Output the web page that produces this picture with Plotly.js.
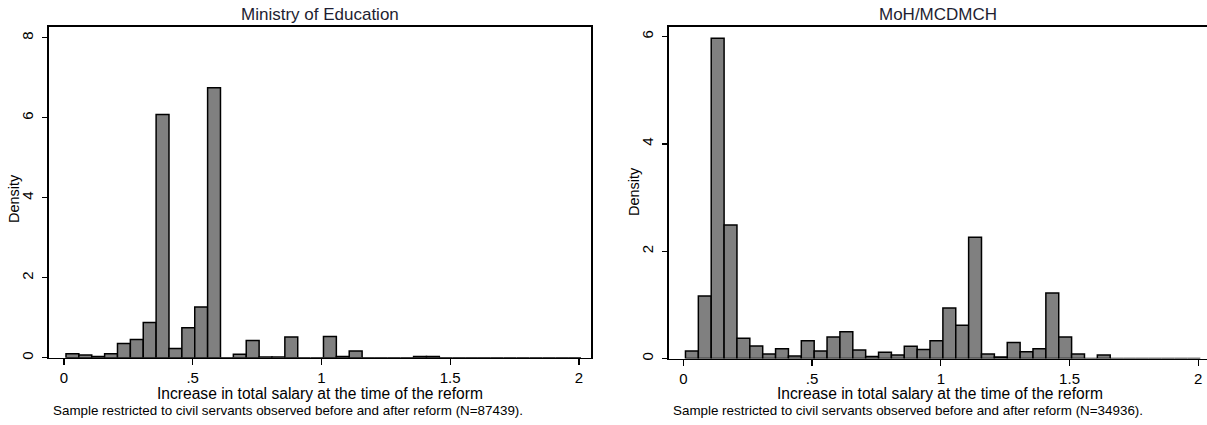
<!DOCTYPE html>
<html>
<head>
<meta charset="utf-8">
<script src="https://cdn.plot.ly/plotly-3.0.1.min.js"></script>
<style>html,body{margin:0;padding:0;background:#fff;}#chart{width:1207px;height:425px;}</style>
</head>
<body>
<div id="chart"></div>
<script>
// Histogram bins (same for both panels)
const binStart = 0.008;
const binWidth = 0.05;

// Ministry of Education densities (40 bins)
const eduDensity = [0.10, 0.07, 0.03, 0.10, 0.36, 0.46, 0.88, 6.08, 0.23, 0.75,
                    1.27, 6.75, 0, 0.09, 0.43, 0.02, 0.02, 0.52, 0, 0,
                    0.53, 0.03, 0.17, 0, 0, 0, 0, 0.03, 0.03, 0,
                    0, 0, 0, 0, 0, 0, 0, 0, 0, 0];

// MoH/MCDMCH densities (40 bins)
const mohDensity = [0.14, 1.165, 5.97, 2.49, 0.376, 0.233, 0.084, 0.18, 0.047, 0.33,
                    0.14, 0.40, 0.50, 0.16, 0.035, 0.115, 0.065, 0.23, 0.17, 0.33,
                    0.94, 0.62, 2.26, 0.084, 0.03, 0.30, 0.127, 0.18, 1.22, 0.40,
                    0.084, 0, 0.065, 0, 0, 0, 0, 0, 0, 0];

const panelTitles = ["Ministry of Education", "MoH/MCDMCH"];
const xTickVals = [0, 0.5, 1, 1.5, 2];
const xTickText = ["0", ".5", "1", "1.5", "2"];
const eduYTicks = [0, 2, 4, 6, 8];
const mohYTicks = [0, 2, 4, 6];
const xTitle = "Increase in total salary at the time of the reform";
const yTitle = "Density";
const eduNote = "Sample restricted to civil servants observed before and after reform (N=87439).";
const mohNote = "Sample restricted to civil servants observed before and after reform (N=34936).";

const centers = eduDensity.map((_, i) => binStart + binWidth * (i + 0.5));

const FONT = "Liberation Sans, Arial, sans-serif";
const W = 1207, H = 425;

const barStyle = {color: "#808080", line: {color: "#000", width: 1.5}};

const traces = [
  {type: "bar", x: centers, y: eduDensity, width: binWidth, marker: barStyle,
   xaxis: "x", yaxis: "y", hoverinfo: "skip"},
  {type: "bar", x: centers, y: mohDensity, width: binWidth, marker: barStyle,
   xaxis: "x2", yaxis: "y2", hoverinfo: "skip"}
];

function xAxis(domain, range) {
  return {
    domain: domain, range: range, tickvals: xTickVals, ticktext: xTickText,
    ticks: "outside", ticklen: 6, tickwidth: 1.3, tickcolor: "#000",
    showline: true, linecolor: "#000", linewidth: 1.6, mirror: true,
    showgrid: false, zeroline: false, fixedrange: true,
    tickfont: {family: FONT, size: 15, color: "#000"}, ticklabelstandoff: 0
  };
}
function yAxis(domain, range, ticks, anchor, mirror) {
  return {
    domain: domain, range: range, tickvals: ticks, ticktext: ticks.map(String),
    ticks: "outside", ticklen: 5, tickwidth: 1.3, tickcolor: "#000", tickangle: -90,
    showline: true, linecolor: "#000", linewidth: 1.6, mirror: mirror, anchor: anchor,
    showgrid: false, zeroline: false, fixedrange: true,
    tickfont: {family: FONT, size: 15, color: "#000"}, ticklabelstandoff: 3
  };
}

const ann = [];
function addText(text, x, y, size, color, extra) {
  ann.push(Object.assign({text: text, x: x / W, y: 1 - y / H, xref: "paper", yref: "paper",
    showarrow: false, font: {family: FONT, size: size, color: color},
    xanchor: "center", yanchor: "middle"}, extra || {}));
}
addText(panelTitles[0], 320, 14, 17, "#1e1e32");
addText(panelTitles[1], 938, 14, 17, "#1e1e32");
addText(xTitle, 320, 393, 15.6, "#000");
addText(xTitle, 940, 393, 15.6, "#000");
addText(yTitle, 14, 199, 14.5, "#000", {textangle: -90});
addText(yTitle, 634, 192, 14.5, "#000", {textangle: -90});
addText(eduNote, 51, 410, 13.4, "#000", {xanchor: "left"});
addText(mohNote, 671, 410, 13.4, "#000", {xanchor: "left"});

const layout = {
  width: W, height: H, margin: {l: 0, r: 0, t: 0, b: 0},
  paper_bgcolor: "#fff", plot_bgcolor: "#fff", showlegend: false, bargap: 0,
  font: {family: FONT, color: "#000"},
  xaxis: xAxis([49 / W, 591 / W], [-0.058, 2.047]),
  yaxis: yAxis([(H - 357.8) / H, (H - 27) / H], [0, (357.8 - 27) / 40], eduYTicks, "x", true),
  xaxis2: Object.assign(xAxis([669 / W, 1], [-0.056, 2.034]), {anchor: "y2"}),
  yaxis2: yAxis([(H - 358.5) / H, (H - 27) / H], [0, (358.5 - 27) / 53.65], mohYTicks, "x2", false),
  annotations: ann
};
layout.xaxis.anchor = "y";

Plotly.newPlot("chart", traces, layout, {staticPlot: true, displayModeBar: false});
</script>
</body>
</html>
